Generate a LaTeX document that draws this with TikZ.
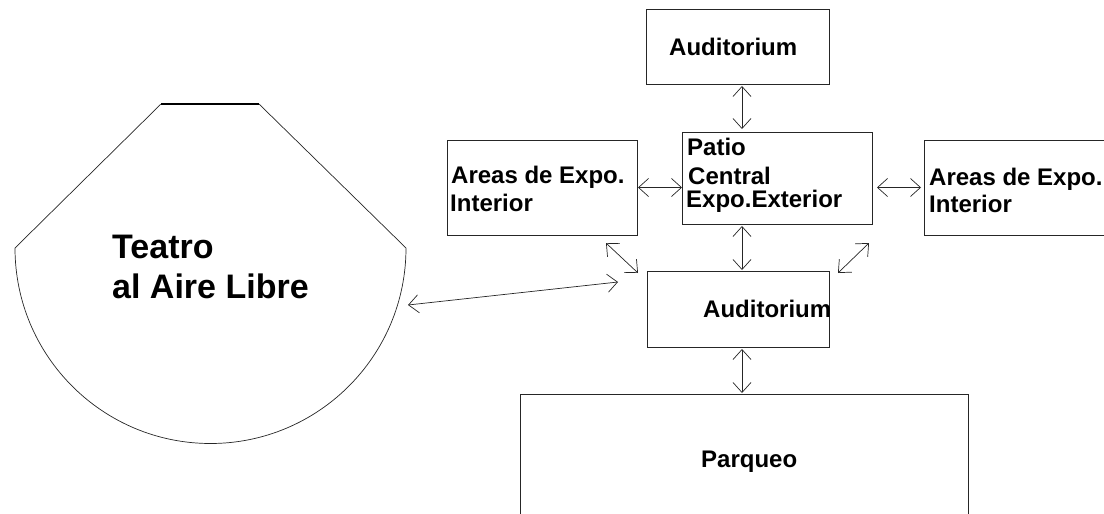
\documentclass[tikz,border=0pt]{standalone}
\usepackage{fontspec}
\setmainfont{Liberation Sans}[BoldFont={Liberation Sans Bold}]
\usetikzlibrary{arrows.meta}
\begin{document}
\begin{tikzpicture}[x=1pt,y=1pt,
  box/.style={draw=black!85, line width=0.8pt, inner sep=0pt, outer sep=0pt},
  lbl/.style={anchor=base west, inner sep=0pt, font=\fontsize{24}{28}\selectfont\bfseries},
  biglbl/.style={anchor=base west, inner sep=0pt, font=\fontsize{34}{40}\selectfont\bfseries},
  conn/.style={draw=black!85, line width=0.7pt, {Straight Barb[length=10pt,width=18pt]}-{Straight Barb[length=10pt,width=18pt]}}]
\useasboundingbox (0,0) rectangle (1104,-514);
\clip (0,0) rectangle (1104,-514);
% boxes
\node[box, minimum width=183pt, minimum height=75pt] (aud1) at (737.5,-46.5) {};
\node[box, minimum width=190pt, minimum height=92pt] (patio) at (777,-178) {};
\node[box, minimum width=190pt, minimum height=95pt] (areaL) at (542,-187.5) {};
\node[box, minimum width=190pt, minimum height=95pt] (areaR) at (1019,-187.5) {};
\node[box, minimum width=182pt, minimum height=76pt] (aud2) at (738,-309) {};
\node[box, minimum width=448pt, minimum height=150pt] (parq) at (744,-469) {};
% teatro shape
\draw[draw=black!85, line width=0.7pt] (259,-104) -- (406,-248) arc[start angle=0, end angle=-180, radius=195.5] -- (161,-104);
\draw[line width=1.6pt] (161,-104) -- (259,-104);
\coordinate (teatroE) at (408,-305);
% texts
\node[lbl] (t1) at (669,-55) {Auditorium};
\node[lbl] (t2) at (687,-155) {Patio};
\node[lbl] (t3) at (688,-184) {Central};
\node[lbl] (t4) at (686,-207) {Expo.Exterior};
\node[lbl] (t5) at (451,-183) {Areas de Expo.};
\node[lbl] (t6) at (450,-211) {Interior};
\node[lbl] (t7) at (929,-185) {Areas de Expo.};
\node[lbl] (t8) at (929,-212) {Interior};
\node[lbl] (t9) at (703,-317) {Auditorium};
\node[lbl] (t10) at (701,-467) {Parqueo};
\node[biglbl] (t11) at (112,-258) {Teatro};
\node[biglbl] (t12) at (112,-298) {al Aire Libre};
% connectors
\draw[conn] ([shift={(4.5,-2)}]aud1.south) -- ([shift={(-35,3)}]patio.north);
\draw[conn] ([xshift=1pt]areaL.east) -- (areaL.east -| patio.west);
\draw[conn] ([xshift=5pt]areaR.west -| patio.east) -- ([xshift=-3pt]areaR.west);
\draw[conn] ([shift={(-35,-2)}]patio.south) -- ([shift={(4,1)}]aud2.north);
\draw[conn] ([shift={(64,-8)}]areaL.south) -- ([shift={(-9,-2)}]aud2.north west);
\draw[conn] ([shift={(-55,-8)}]areaR.south west) -- ([shift={(9,-2)}]aud2.north east);
\draw[conn] (teatroE) -- ([shift={(-29,27)}]aud2.west);
\draw[conn] ([shift={(4,-2)}]aud2.south) -- ([shift={(-2,1)}]parq.north);
\end{tikzpicture}
\end{document}
